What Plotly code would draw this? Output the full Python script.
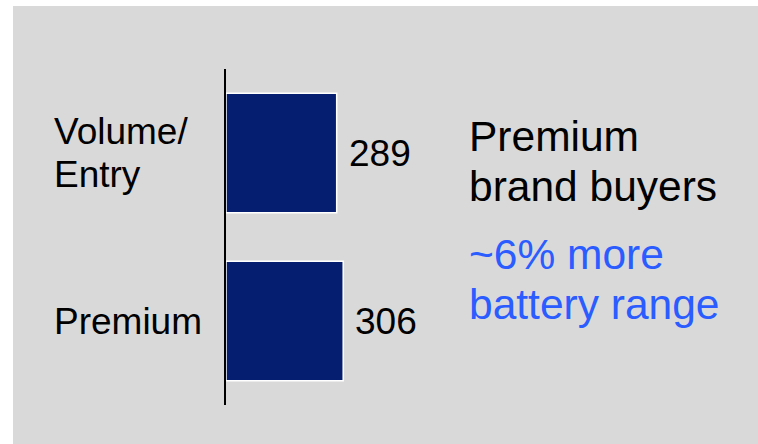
import plotly.graph_objects as go

# ---- data ----
categories = ["Volume/Entry", "Premium"]
label_lines = [["Volume/", "Entry"], ["Premium"]]
values = [289, 306]
headline_lines = ["Premium", "brand buyers"]
callout_lines = ["~6% more", "battery range"]

# ---- styling ----
W, H = 758, 444
L, R, T, B = 226, 149, 69, 39
PW, PH = W - L - R, H - T - B
FONT = "Arial, 'Liberation Sans', sans-serif"
BAR = "#061E70"
GREY = "#D9D9D9"
BLUE = "#2A5CFF"


def px_x(px):
    return (px - L) / PW


def px_y(py):
    return (H - B - py) / PH


fig = go.Figure(
    go.Bar(
        y=categories,
        x=values,
        orientation="h",
        width=0.71,
        marker=dict(color=BAR, line=dict(color="white", width=1.5)),
        hoverinfo="skip",
    )
)

annotations = []
# value labels
for c, v in zip(categories, values):
    annotations.append(dict(x=v, y=c, xref="x", yref="y", xanchor="left", yanchor="middle",
                            xshift=10, text=str(v), showarrow=False,
                            font=dict(family=FONT, size=37, color="black")))
# category labels (left aligned, custom line spacing)
for c, lines in zip(categories, label_lines):
    n = len(lines)
    for i, ln in enumerate(lines):
        shift = (((n - 1) / 2) - i) * 43
        annotations.append(dict(x=px_x(52), y=c, xref="paper", yref="y", xanchor="left",
                                yanchor="middle", yshift=shift, text=ln, showarrow=False,
                                font=dict(family=FONT, size=37, color="black")))
# right side text
for i, ln in enumerate(headline_lines):
    annotations.append(dict(x=px_x(467), y=px_y(136 + 50 * i), xref="paper", yref="paper",
                            xanchor="left", yanchor="middle", text=ln, showarrow=False,
                            font=dict(family=FONT, size=42.5, color="black")))
for i, ln in enumerate(callout_lines):
    annotations.append(dict(x=px_x(467), y=px_y(254 + 50 * i), xref="paper", yref="paper",
                            xanchor="left", yanchor="middle", text=ln, showarrow=False,
                            font=dict(family=FONT, size=42.5, color=BLUE)))

fig.update_layout(
    width=W, height=H,
    margin=dict(l=L, r=R, t=T, b=B, pad=0),
    paper_bgcolor="white",
    plot_bgcolor="rgba(0,0,0,0)",
    showlegend=False,
    bargap=0.29,
    annotations=annotations,
    shapes=[dict(type="rect", xref="paper", yref="paper", layer="below",
                 x0=px_x(13), x1=px_x(W + 5), y0=px_y(H + 5), y1=px_y(6),
                 fillcolor=GREY, line=dict(width=0))],
    xaxis=dict(range=[0, 1000], visible=False, fixedrange=True),
    yaxis=dict(categoryorder="array", categoryarray=categories, range=[1.5, -0.5],
               showline=True, linecolor="black", linewidth=2, showticklabels=False,
               ticks="", showgrid=False, zeroline=False, fixedrange=True),
)

fig.write_html("out.html", config={"displayModeBar": False})
